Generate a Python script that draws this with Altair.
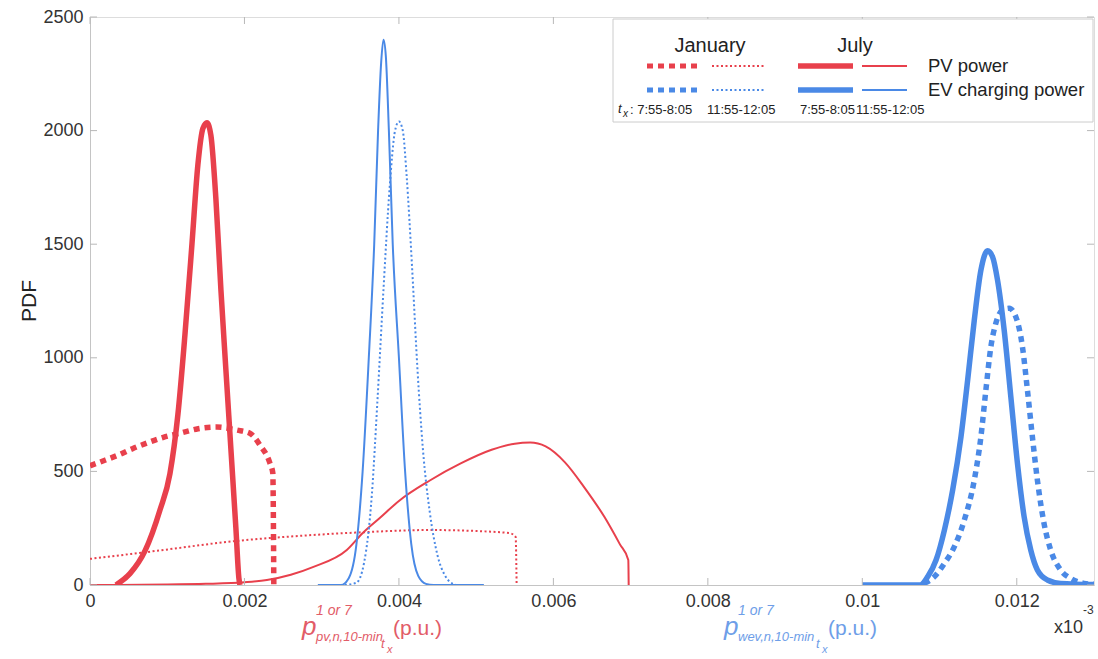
import altair as alt
import pandas as pd

RED = "#E8404C"
BLUE = "#4A89E6"
RED_T = "#E25C68"
BLUE_T = "#6E9EE8"
FONT = "Liberation Sans"

# ---- data (x in units of 1e-3 p.u., y = PDF) ----
jul_pv_am_x = [0.336, 0.517, 0.712, 0.906, 1.035, 1.138, 1.229, 1.32, 1.397, 1.462, 1.514, 1.565, 1.63, 1.695, 1.759, 1.824, 1.889, 1.928, 1.941]
jul_pv_am_y = [0, 50, 150, 330, 490, 750, 1100, 1500, 1850, 2010, 2035, 1980, 1700, 1300, 950, 600, 250, 30, 0]

jan_pv_am_x = [0, 0.2, 0.388, 0.55, 0.737, 0.95, 1.164, 1.4, 1.643, 1.902, 2.07, 2.2, 2.329, 2.367, 2.38]
jan_pv_am_y = [525, 550, 575, 600, 625, 650, 668, 688, 695, 682, 668, 616, 537, 493, 0]

jan_pv_noon_x = [0, 0.737, 1.902, 2.885, 3.583, 4.398, 5.045, 5.433, 5.511, 5.524]
jan_pv_noon_y = [115, 145, 194, 220, 233, 242, 237, 228, 212, 0]

jul_pv_noon_x = [0, 1.0, 1.5, 2.0, 2.29, 2.6, 2.885, 3.325, 3.532, 3.752, 4.0, 4.4, 4.8, 5.2, 5.5, 5.7, 5.9, 6.15, 6.4, 6.66, 6.86, 6.97, 6.975]
jul_pv_noon_y = [0, 2, 5, 12, 22, 45, 79, 154, 229, 295, 370, 460, 535, 595, 622, 627, 610, 540, 430, 300, 180, 110, 0]

jul_ev_noon_x = [2.95, 3.25, 3.35, 3.45, 3.53, 3.61, 3.68, 3.73, 3.77, 3.8, 3.83, 3.87, 3.92, 4.0, 4.08, 4.16, 4.25, 4.35, 4.45, 5.1]
jul_ev_noon_y = [0, 0, 30, 180, 500, 1000, 1500, 2000, 2300, 2400, 2330, 2000, 1500, 1000, 500, 180, 40, 5, 0, 0]

jan_ev_noon_x = [3.3, 3.45, 3.55, 3.65, 3.72, 3.8, 3.88, 3.95, 4.0, 4.05, 4.1, 4.17, 4.24, 4.31, 4.4, 4.5, 4.6, 4.7, 4.75]
jan_ev_noon_y = [0, 10, 100, 400, 800, 1300, 1750, 2000, 2040, 2000, 1800, 1400, 950, 600, 320, 130, 40, 5, 0]

jul_ev_am_x = [10.0, 10.75, 10.848, 10.955, 11.063, 11.17, 11.278, 11.364, 11.45, 11.536, 11.622, 11.686, 11.751, 11.837, 11.923, 12.009, 12.095, 12.181, 12.267, 12.396, 12.568, 13.0]
jul_ev_am_y = [0, 0, 37, 110, 242, 418, 653, 902, 1166, 1386, 1471, 1445, 1342, 1122, 829, 535, 301, 154, 66, 22, 7, 2]

jan_ev_am_x = [10.8, 10.934, 11.063, 11.192, 11.321, 11.45, 11.536, 11.6, 11.665, 11.729, 11.815, 11.901, 11.987, 12.073, 12.138, 12.202, 12.267, 12.353, 12.439, 12.568, 12.697, 12.869, 13.0]
jan_ev_am_y = [7, 37, 95, 169, 286, 462, 653, 858, 1049, 1152, 1210, 1218, 1181, 1049, 858, 653, 462, 271, 154, 66, 29, 7, 3]

x_ticks = [0, 0.002, 0.004, 0.006, 0.008, 0.01, 0.012]
y_ticks = [0, 500, 1000, 1500, 2000, 2500]

W, H = 1004, 568
OX, OY = 90, 17

xsc = alt.Scale(domain=[0, 0.013], nice=False, zero=False)
ysc = alt.Scale(domain=[0, 2500], nice=False)
xaxis = alt.Axis(values=x_ticks, format="~g", title=None, ticks=False, grid=False,
                 labelFontSize=18, labelPadding=7, domainColor="#c4c4c4",
                 labelColor="#333333", labelFont=FONT, labelFlush=False)
yaxis = alt.Axis(values=y_ticks, format="d", title=None, ticks=False, grid=False,
                 labelFontSize=18, labelPadding=7, domainColor="#c4c4c4",
                 labelColor="#333333", labelFont=FONT)


def X():
    return alt.X("x:Q", scale=xsc, axis=xaxis)


def Y():
    return alt.Y("y:Q", scale=ysc, axis=yaxis)


def line(xs, ys, color, width, dash=None):
    df = pd.DataFrame({"x": [v * 1e-3 for v in xs], "y": ys, "i": list(range(len(xs)))})
    kw = dict(color=color, strokeWidth=width, clip=True, strokeJoin="round", interpolate="monotone")
    if dash:
        kw["strokeDash"] = dash
        kw["strokeCap"] = "butt"
    return alt.Chart(df).mark_line(**kw).encode(x=X(), y=Y(), order=alt.Order("i:Q"))


def text(s, x, y, size, color="#222222", italic=False, align="left", angle=None, baseline="middle"):
    kw = dict(text=s, fontSize=size, color=color, font=FONT, align=align, baseline=baseline)
    if italic:
        kw["fontStyle"] = "italic"
    if angle is not None:
        kw["angle"] = angle
    return alt.Chart(pd.DataFrame({"a": [0]})).mark_text(**kw).encode(
        x=alt.value(x - OX), y=alt.value(y - OY))


def hrule(x1, x2, y, color, width, dash=None):
    kw = dict(color=color, strokeWidth=width)
    if dash:
        kw["strokeDash"] = dash
        kw["strokeCap"] = "butt"
    return alt.Chart(pd.DataFrame({"a": [0]})).mark_rule(**kw).encode(
        x=alt.value(x1 - OX), x2=alt.value(x2 - OX), y=alt.value(y - OY))


THICK = 5.5
THIN = 2
DASH = [6, 5]
DOT = [2, 2.5]

layers = [
    line(jan_pv_noon_x, jan_pv_noon_y, RED, THIN, DOT),
    line(jul_pv_noon_x, jul_pv_noon_y, RED, THIN),
    line(jan_ev_noon_x, jan_ev_noon_y, BLUE, THIN, DOT),
    line(jul_ev_noon_x, jul_ev_noon_y, BLUE, THIN),
    line(jan_pv_am_x, jan_pv_am_y, RED, THICK, DASH),
    line(jul_pv_am_x, jul_pv_am_y, RED, THICK),
    line(jan_ev_am_x, jan_ev_am_y, BLUE, THICK, DASH),
    line(jul_ev_am_x, jul_ev_am_y, BLUE, THICK),
]

# inward ticks (MATLAB-style box)
xt = pd.DataFrame({"x": x_ticks})
yt = pd.DataFrame({"y": y_ticks})
tick_col = "#b8b8b8"
layers += [
    alt.Chart(xt).mark_rule(color=tick_col).encode(x=X(), y=alt.value(H), y2=alt.value(H - 7)),
    alt.Chart(xt).mark_rule(color=tick_col).encode(x=X(), y=alt.value(0), y2=alt.value(7)),
    alt.Chart(yt).mark_rule(color=tick_col).encode(y=Y(), x=alt.value(0), x2=alt.value(7)),
    alt.Chart(yt).mark_rule(color=tick_col).encode(y=Y(), x=alt.value(W), x2=alt.value(W - 7)),
]

# legend box
layers.append(
    alt.Chart(pd.DataFrame({"a": [0]})).mark_rect(fill="white", stroke="#cccccc", strokeWidth=1).encode(
        x=alt.value(613 - OX), x2=alt.value(1093 - OX), y=alt.value(19 - OY), y2=alt.value(122 - OY))
)
layers += [
    text("January", 710, 46, 20, align="center"),
    text("July", 855, 46, 20, align="center"),
    hrule(647, 700, 66, RED, 5, DASH),
    hrule(712, 766, 66, RED, 2, DOT),
    hrule(798, 853, 66, RED, 5.5),
    hrule(862, 907, 66, RED, 2),
    hrule(647, 700, 90, BLUE, 5, DASH),
    hrule(712, 766, 90, BLUE, 2, DOT),
    hrule(798, 853, 90, BLUE, 5.5),
    hrule(862, 907, 90, BLUE, 2),
    text("PV power", 928, 66, 18.5),
    text("EV charging power", 928, 90, 18.5),
    text("t", 618, 109, 13, italic=True),
    text("x", 623, 114, 10, italic=True),
    text(": 7:55-8:05", 630, 110, 13),
    text("11:55-12:05", 707, 110, 13),
    text("7:55-8:05", 800, 110, 13),
    text("11:55-12:05", 856, 110, 13),
]

# y title
layers.append(text("PDF", 30, 301, 21, align="center", angle=270))

# x titles
def xtitle(x0, sub, color, shift):
    return [
        text("p", x0, 627, 26, color, italic=True),
        text("1 or 7", x0 + 14, 611, 14, color, italic=True),
        text(sub, x0 + 14, 637, 13, color, italic=True),
        text("t", x0 + 79 + shift, 644, 13, color, italic=True),
        text("x", x0 + 85 + shift, 650, 11, color, italic=True),
        text("(p.u.)", x0 + 91 + shift, 629, 21, color),
    ]

layers += xtitle(302, "pv,n,10-min", RED_T, 0)
layers += xtitle(724, "wev,n,10-min", BLUE_T, 13)

layers += [
    text("x10", 1054, 628, 18, "#333333"),
    text("-3", 1083, 610, 12, "#333333"),
]

chart = alt.layer(*layers).properties(
    width=W, height=H,
    padding={"left": OX, "top": OY, "right": 1098 - OX - W, "bottom": 659 - OY - H},
    autosize=alt.AutoSizeParams(type="none"),
).configure_view(stroke="#c4c4c4", strokeWidth=1).configure(background="white")

chart.save("out.html", embed_options={"renderer": "svg", "actions": False})
